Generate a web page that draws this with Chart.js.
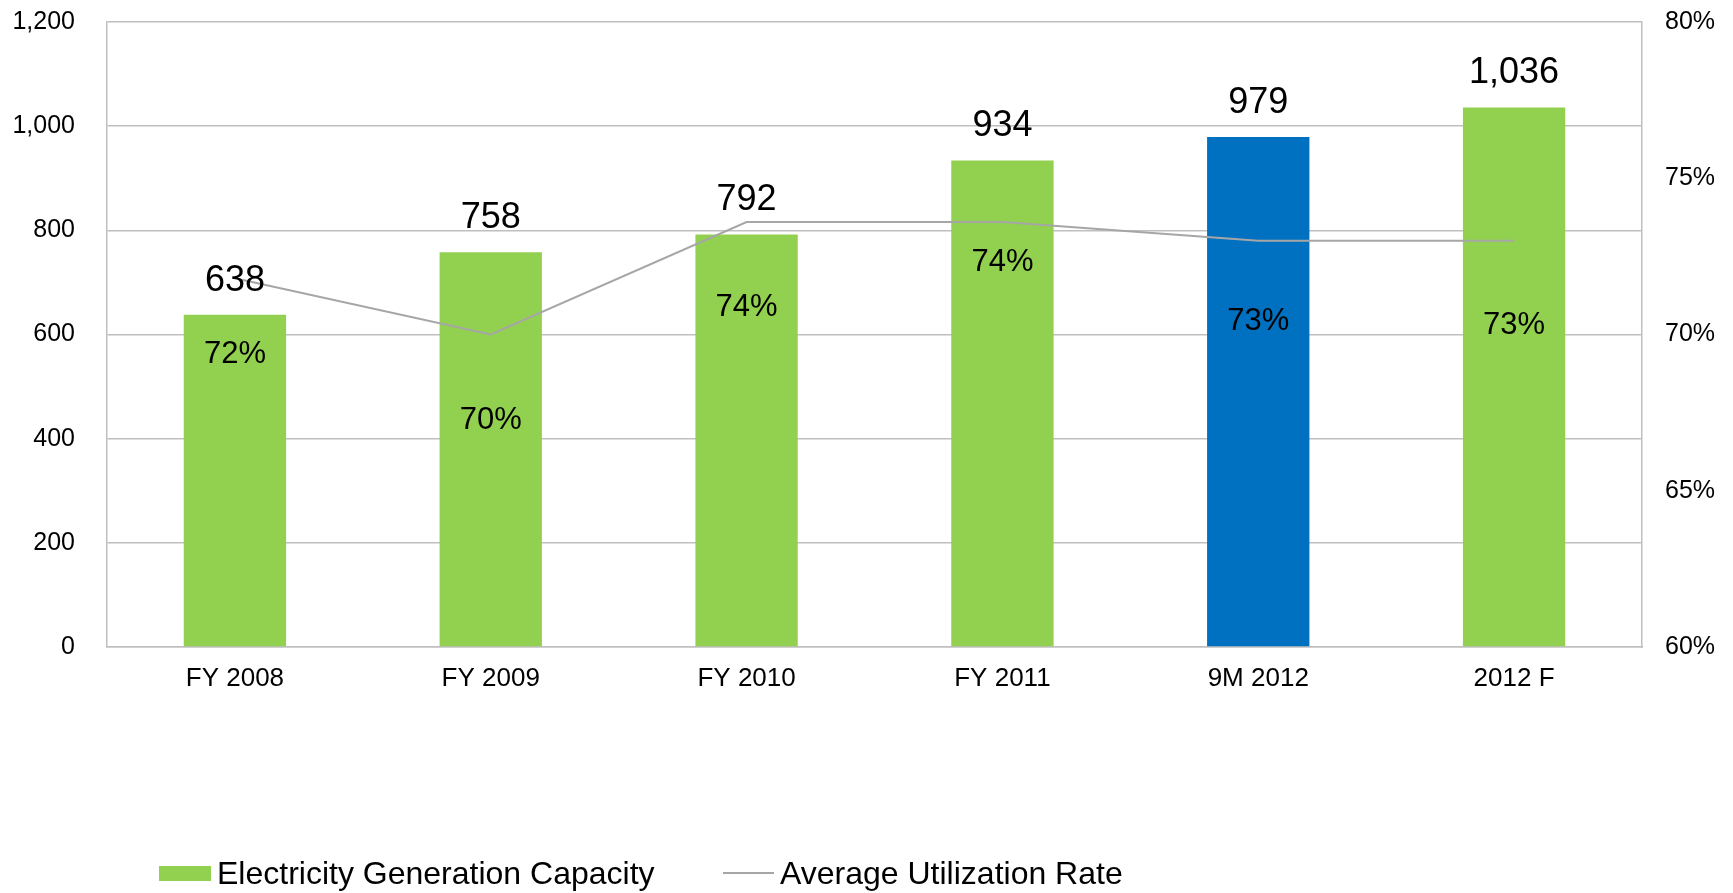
<!DOCTYPE html>
<html>
<head>
<meta charset="utf-8">
<script src="https://cdn.jsdelivr.net/npm/chart.js@4.4.1/dist/chart.umd.min.js"></script>
<style>
    body { margin: 0; background: #fff; font-family: "Liberation Sans", Arial, sans-serif; }
    #wrap { position: relative; width: 1733px; height: 893px; }
    .legendItem { position: absolute; top: 853px; height: 40px; display: flex; align-items: center; font-size: 32px; color: #000; white-space: nowrap; }
    .legendItem .box { width: 52px; height: 15px; background: #92D050; margin-right: 6px; }
    .legendItem .ln { width: 51px; height: 2px; background: #A6A6A6; margin-right: 6px; }
</style>
</head>
<body>
<div id="wrap">
    <canvas id="grafico" width="1733" height="893"></canvas>
    <div class="legendItem" style="left:159px"><span class="box"></span>Electricity Generation Capacity</div>
    <div class="legendItem" style="left:723px"><span class="ln"></span>Average Utilization Rate</div>
</div>
<script>
const categorias = ['FY 2008', 'FY 2009', 'FY 2010', 'FY 2011', '9M 2012', '2012 F'];
const capacidade = [638, 758, 792, 934, 979, 1036];
const utilizacao = [71.8, 70.0, 73.6, 73.6, 73.0, 73.0];
const ticksCapacidade = [0, 200, 400, 600, 800, 1000, 1200];
const ticksUtilizacao = [60, 65, 70, 75, 80];

const verde = '#92D050';
const azul = '#0070C0';
const cinzaGrade = '#BFBFBF';
const fonte = '"Liberation Sans", Arial, sans-serif';

// rótulos dos valores (acima das barras e % abaixo da linha)
const rotulos = {
    id: 'rotulos',
    afterDatasetsDraw(chart, args, opts) {
        const ctx = chart.ctx;
        ctx.save();
        ctx.fillStyle = '#000';
        ctx.textAlign = 'center';
        ctx.textBaseline = 'middle';

        ctx.font = '36px ' + fonte;
        chart.getDatasetMeta(0).data.forEach((bar, i) => {
            ctx.fillText(capacidade[i].toLocaleString('en-US'), bar.x, bar.y - 34);
        });

        ctx.font = '31px ' + fonte;
        chart.getDatasetMeta(1).data.forEach((pt, i) => {
            ctx.fillText(Math.round(utilizacao[i]) + '%', pt.x, pt.y + opts.deslocamento[i]);
        });
        ctx.restore();
    }
};

// largura fixa do eixo e sem folga extra em cima/embaixo
function fixarEixo(largura) {
    return (scale) => {
        scale.width = largura;
        scale.paddingTop = 0;
        scale.paddingBottom = 0;
    };
}

const ctx = document.getElementById('grafico').getContext('2d');
const grafico = new Chart(ctx, {
    type: 'bar',
    data: {
        labels: categorias,
        datasets: [{
            type: 'bar',
            label: 'Electricity Generation Capacity',
            data: capacidade,
            backgroundColor: categorias.map(c => c === '9M 2012' ? azul : verde),
            yAxisID: 'y',
            order: 2,
            barPercentage: 0.4,
            categoryPercentage: 1
        }, {
            type: 'line',
            label: 'Average Utilization Rate',
            data: utilizacao,
            borderColor: '#A6A6A6',
            borderWidth: 2,
            pointRadius: 0,
            tension: 0,
            fill: false,
            yAxisID: 'y1',
            order: 1
        }]
    },
    options: {
        responsive: false,
        animation: false,
        layout: { padding: { top: 22, bottom: 0, left: 0, right: 0 } },
        plugins: {
            legend: { display: false },
            tooltip: { enabled: false },
            rotulos: { deslocamento: [76, 86, 85, 40, 81, 85] }
        },
        scales: {
            x: {
                grid: { display: false, drawTicks: false },
                border: { display: true, color: cinzaGrade, width: 1.5 },
                ticks: {
                    color: '#000',
                    padding: 16,
                    font: { family: fonte, size: 26 }
                },
                afterFit: (scale) => { scale.height = 246; }
            },
            y: {
                position: 'left',
                min: ticksCapacidade[0],
                max: ticksCapacidade[ticksCapacidade.length - 1],
                afterBuildTicks: (scale) => { scale.ticks = ticksCapacidade.map(v => ({ value: v })); },
                grid: { color: cinzaGrade, lineWidth: 1.5, drawTicks: false },
                border: { display: true, color: cinzaGrade, width: 1.5 },
                ticks: {
                    color: '#000',
                    padding: 32,
                    font: { family: fonte, size: 25 },
                    callback: (v) => v.toLocaleString('en-US')
                },
                afterFit: fixarEixo(107)
            },
            y1: {
                position: 'right',
                min: ticksUtilizacao[0],
                max: ticksUtilizacao[ticksUtilizacao.length - 1],
                afterBuildTicks: (scale) => { scale.ticks = ticksUtilizacao.map(v => ({ value: v })); },
                grid: { drawOnChartArea: false, drawTicks: false },
                border: { display: true, color: cinzaGrade, width: 1.5 },
                ticks: {
                    color: '#000',
                    padding: 23,
                    font: { family: fonte, size: 25 },
                    callback: (v) => v + '%'
                },
                afterFit: fixarEixo(91)
            }
        }
    },
    plugins: [rotulos]
});
</script>
</body>
</html>
